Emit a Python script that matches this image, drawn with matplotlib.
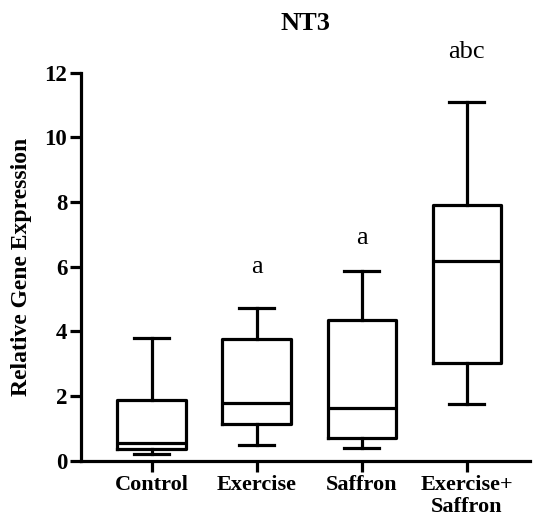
import matplotlib.pyplot as plt

# Datos del grafico
grupos = ['Control', 'Exercise', 'Saffron', 'Exercise+\nSaffron']
minimos = [0.22, 0.48, 0.40, 1.75]
q1 = [0.36, 1.15, 0.72, 3.02]
medianas = [0.55, 1.80, 1.62, 6.18]
q3 = [1.88, 3.76, 4.36, 7.90]
maximos = [3.80, 4.74, 5.88, 11.10]
letras = ['', 'a', 'a', 'abc']
pos_letras = [0, 6.0, 6.9, 12.65]

plt.rcParams['font.family'] = 'Liberation Serif'

fig = plt.figure(figsize=(5.34, 5.16), dpi=100)
ax = fig.add_axes([0.152, 0.107, 0.84, 0.752])

stats = []
for i, g in enumerate(grupos):
    stats.append({'label': g, 'whislo': minimos[i], 'q1': q1[i], 'med': medianas[i],
                  'q3': q3[i], 'whishi': maximos[i], 'fliers': []})

lw = 2.3
ax.bxp(stats, positions=[1, 2, 3, 4], widths=0.65, showfliers=False,
       boxprops=dict(color='black', linewidth=lw),
       medianprops=dict(color='black', linewidth=lw),
       whiskerprops=dict(color='black', linewidth=lw),
       capprops=dict(color='black', linewidth=lw),
       capwidths=0.33)

# letras de significancia
for i, t in enumerate(letras):
    if t:
        ax.text(i + 1, pos_letras[i], t, ha='center', va='center', fontsize=19, clip_on=False)

ax.set_xlim(0.33, 4.6)
ax.set_ylim(0, 12)
ax.set_yticks([0, 2, 4, 6, 8, 10, 12])
ax.set_xticks([1, 2, 3, 4])
ax.set_xticklabels(grupos, fontweight='bold', fontsize=16, linespacing=1.15)
for lab in ax.get_yticklabels():
    lab.set_fontweight('bold')
    lab.set_fontsize(16.5)
ax.set_ylabel('Relative Gene Expression', fontweight='bold', fontsize=17, labelpad=9)
ax.set_title('NT3', fontweight='bold', fontsize=19, pad=31)

ax.spines['top'].set_visible(False)
ax.spines['right'].set_visible(False)
ax.spines['left'].set_linewidth(lw)
ax.spines['bottom'].set_linewidth(lw)
ax.tick_params(width=lw, length=8, color='black', pad=2)

plt.savefig('out.png', dpi=100)
